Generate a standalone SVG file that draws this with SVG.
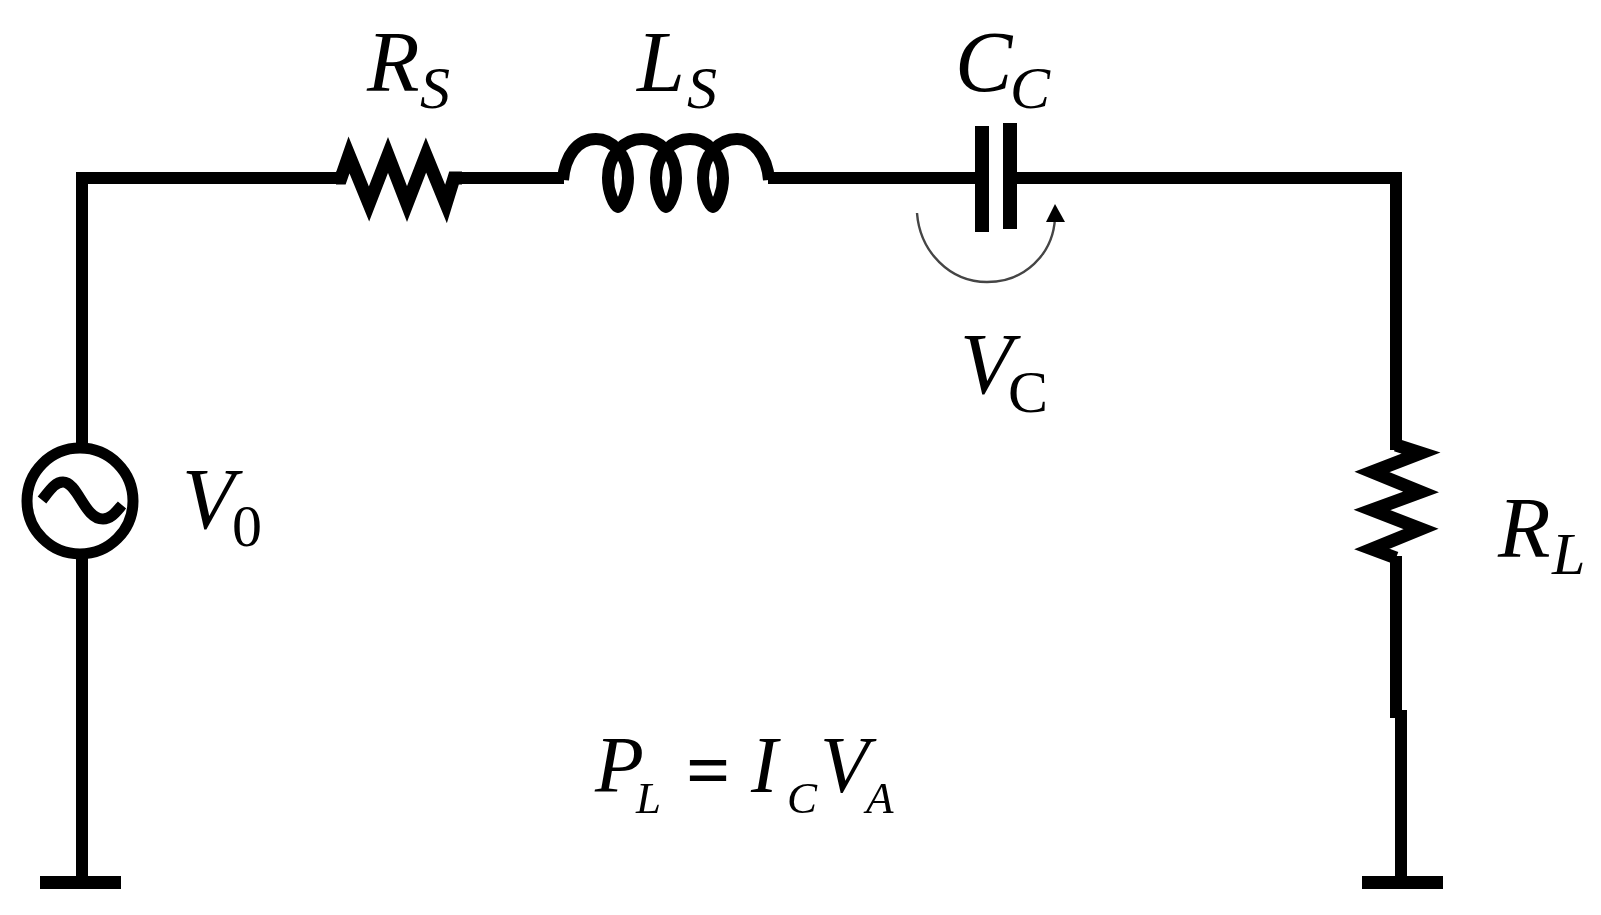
<svg xmlns="http://www.w3.org/2000/svg" width="1601" height="915" viewBox="0 0 1601 915">
<style>
.w{fill:none;stroke:#000;stroke-width:12;stroke-linejoin:miter;stroke-miterlimit:10}
.z{fill:none;stroke:#000;stroke-width:13;stroke-linejoin:miter;stroke-miterlimit:10}
.c{fill:none;stroke:#000;stroke-width:12;stroke-linejoin:round}
.p{fill:#000}
text{font-family:"Liberation Serif","Times New Roman",serif;fill:#000}
.m{font-size:86px;font-style:italic}
.s{font-size:60px;font-style:italic}
.u{font-size:60px}
.e{font-size:80px;font-style:italic}
.f{font-size:45px;font-style:italic}
.q{font-size:78px;font-weight:bold}
</style>
<defs><filter id="b" filterUnits="userSpaceOnUse" x="0" y="0" width="1601" height="915"><feGaussianBlur stdDeviation="0.7"/></filter></defs>
<rect width="1601" height="915" fill="#fff"/>
<g filter="url(#b)">
<g id="connectors">
<path class="w" d="M82 445V178H342"/>
<path class="w" d="M82 556V882"/>
<path class="w" d="M452 178H564"/>
<path class="w" d="M768 178H978"/>
<path class="w" d="M1014 178H1396V450"/>
<path class="w" d="M1396 556V718"/>
<path class="w" d="M1401 710V882"/>
</g>
<g id="Rs">
<path class="z" d="M336 178H341L349 155L369 204L388 155L407 204L426 155L446 204L454 178H462"/>
<text class="m" x="367" y="91">R</text><text class="s" x="420" y="108">S</text>
</g>
<g id="Ls">
<path class="c" d="M563 180C565 155 578 139 596 139C612 139 628 155 628 178C628 192 622 205 618 207C614 205 608 192 608 178C608 155 624 139 642 139C660 139 676 155 676 178C676 192 670 205 666 207C662 205 656 192 656 178C656 155 672 139 690 139C707 139 723 155 723 178C723 192 717 205 713 207C709 205 703 192 703 178C703 155 719 139 737 139C753 139 767 155 769 180"/>
<text class="m" x="637" y="91">L</text><text class="s" x="687" y="108">S</text>
</g>
<g id="Cc">
<rect class="p" x="975" y="126" width="14" height="106"/>
<rect class="p" x="1003" y="123" width="14" height="106"/>
<text class="m" x="955" y="91">C</text><text class="s" x="1010" y="108">C</text>
</g>
<g id="Vc">
<path d="M917 213C920 252 950 282 987 282C1024 282 1053 255 1055 218" fill="none" stroke="#444" stroke-width="2.4"/>
<path class="p" d="M1055 204L1065 222H1046Z"/>
<text class="m" x="960" y="393">V</text><text class="u" x="1008" y="412">C</text>
</g>
<g id="V0">
<circle cx="80" cy="501" r="53" fill="none" stroke="#000" stroke-width="11"/>
<path d="M42 500C50 490 55 482 63 482C78 482 84 519 103 519C111 519 116 512 122 505" fill="none" stroke="#000" stroke-width="11"/>
<text class="m" x="182" y="528">V</text><text class="u" x="232" y="546">0</text>
</g>
<g id="RL">
<path class="z" d="M1396 445L1421 453L1372 472L1421 492L1372 510L1421 529L1372 549L1396 558"/>
<text class="m" x="1498" y="557">R</text><text class="s" x="1552" y="574">L</text>
</g>
<g id="GND1"><rect class="p" x="40" y="876" width="81" height="13"/></g>
<g id="GND2"><rect class="p" x="1362" y="876" width="81" height="13"/></g>
<g id="Eq">
<text class="e" x="595" y="792">P</text><text class="f" x="636" y="813">L</text>
<text class="q" x="686" y="796">=</text>
<text class="e" x="751" y="792">I</text><text class="f" x="787" y="813">C</text>
<text class="e" x="820" y="792">V</text><text class="f" x="866" y="813">A</text>
</g>
</g>
</svg>
